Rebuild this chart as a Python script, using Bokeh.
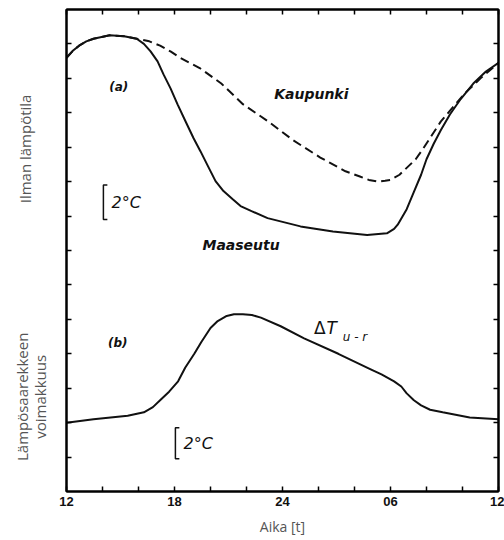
import numpy as np
from bokeh.plotting import figure
from bokeh.layouts import row
from bokeh.models import Range1d, LinearAxis, FixedTicker, Label
from bokeh.core.properties import value
from bokeh.embed import file_html
from bokeh.resources import INLINE

# ---- data (hours since noon: 12 .. 36 = next day 12) ----
hours_rural = [12.0, 12.35, 12.7, 13.1, 13.5, 14.4, 15.2, 15.9, 16.3, 16.67, 17.06, 17.39, 17.78,
               18.17, 18.61, 19.06, 19.44, 19.83, 20.28, 20.72, 21.22, 21.67, 22.28, 23.17, 25.0,
               26.8, 28.7, 29.8, 30.2, 30.4, 30.9, 31.3, 31.7, 32.0, 32.4, 32.8, 33.3, 33.9, 34.6,
               35.3, 36.0]
temp_rural = [25.2, 25.6, 25.9, 26.15, 26.3, 26.5, 26.45, 26.3, 26.0, 25.57, 24.99, 24.23, 23.42,
              22.49, 21.51, 20.52, 19.77, 18.96, 18.03, 17.45, 16.99, 16.58, 16.29, 15.88, 15.4,
              15.1, 14.9, 15.0, 15.25, 15.5, 16.4, 17.4, 18.4, 19.3, 20.2, 21.0, 21.9, 22.8, 23.7,
              24.4, 24.9]

hours_urban = [12.0, 12.35, 12.7, 13.1, 13.5, 14.4, 15.2, 15.9, 16.6, 17.2, 17.8, 18.3, 19.4,
               20.6, 21.8, 23.2, 24.6, 26.1, 27.5, 28.3, 28.8, 29.3, 29.7, 30.0, 30.5, 30.9, 31.4,
               31.8, 32.8, 34.1, 35.0, 36.0]
temp_urban = [25.2, 25.6, 25.9, 26.15, 26.3, 26.5, 26.45, 26.3, 26.15, 25.9, 25.55, 25.2, 24.6,
              23.7, 22.5, 21.5, 20.4, 19.4, 18.6, 18.3, 18.1, 18.0, 18.05, 18.1, 18.4, 18.8, 19.3,
              19.9, 21.5, 23.1, 24.0, 24.9]

hours_diff = [12.0, 13.5, 15.4, 16.3, 16.8, 17.2, 17.7, 18.2, 18.6, 19.1, 19.5, 20.0, 20.4, 20.9,
              21.3, 21.8, 22.3, 22.8, 23.9, 25.2, 27.1, 28.9, 29.5, 30.2, 30.6, 30.9, 31.3, 31.7,
              32.2, 32.9, 34.4, 36.0]
diff_values = [4.0, 4.2, 4.4, 4.6, 4.9, 5.3, 5.8, 6.4, 7.2, 8.0, 8.7, 9.5, 9.9, 10.2,
               10.3, 10.3, 10.25, 10.1, 9.6, 8.9, 8.0, 7.1, 6.8, 6.4, 6.1, 5.7, 5.3, 5.0,
               4.75, 4.6, 4.3, 4.2]

x_ticks = [12, 18, 24, 30, 36]
x_tick_labels = ["12", "18", "24", "06", "12"]
x_minor_ticks = [14, 16, 20, 22, 26, 28, 32, 34]
y_ticks = list(range(2, 28, 2))

# scale bars (2 °C)
scale_a = {"x": 14.05, "y0": 15.8, "y1": 17.8}
scale_b = {"x": 18.05, "y0": 1.9, "y1": 3.7}

H = 540
TOP = 9
BOTTOM = 49
LEFT_W = 50

p = figure(width=504 - LEFT_W, height=H, output_backend="svg", toolbar_location=None,
           x_range=Range1d(12, 36), y_range=Range1d(0, 28),
           x_axis_location=None, y_axis_location=None,
           min_border_left=66 - LEFT_W, min_border_right=6, min_border_top=TOP,
           min_border_bottom=BOTTOM)
p.grid.visible = False
p.outline_line_color = "black"
p.outline_line_width = 2
p.background_fill_color = "white"
p.border_fill_color = "white"

xt = FixedTicker(ticks=x_ticks, minor_ticks=x_minor_ticks)
# unlabeled axes: every tick drawn as a "minor" tick, so no label texts are produced
xt_plain = FixedTicker(ticks=[], minor_ticks=sorted(x_ticks + x_minor_ticks))
yt_plain = FixedTicker(ticks=[], minor_ticks=y_ticks)


def style(ax):
    ax.axis_line_color = "black"
    ax.axis_line_width = 2
    ax.major_tick_in = 5
    ax.major_tick_out = 0
    ax.minor_tick_in = 5
    ax.minor_tick_out = 0
    ax.major_tick_line_color = "black"
    ax.minor_tick_line_color = "black"
    ax.major_tick_line_width = 1.5
    ax.minor_tick_line_width = 1.5


xb = LinearAxis(ticker=xt)
style(xb)
xb.major_label_overrides = {t: l for t, l in zip(x_ticks, x_tick_labels)}
xb.major_label_text_font = "Liberation Sans"
xb.major_label_text_font_style = "bold"
xb.major_label_text_font_size = "13px"
xb.major_label_text_color = "#111111"
xb.major_label_standoff = 5
xb.axis_label = "Aika [t]"
xb.axis_label_text_font = "Open Sans"
xb.axis_label_text_font_style = "normal"
xb.axis_label_text_font_size = "14px"
xb.axis_label_text_color = "#555555"
xb.axis_label_standoff = 8
p.add_layout(xb, "below")

xa = LinearAxis(ticker=xt_plain)
style(xa)
xa.major_label_standoff = 0
p.add_layout(xa, "above")

yl = LinearAxis(ticker=yt_plain)
style(yl)
yl.major_label_standoff = 0
p.add_layout(yl, "left")

yr = LinearAxis(ticker=yt_plain)
style(yr)
yr.major_label_standoff = 0
p.add_layout(yr, "right")

# curves
p.line(hours_rural, temp_rural, line_color="#111111", line_width=2)
p.line(hours_urban, temp_urban, line_color="#111111", line_width=2, line_dash="9 5")
p.line(hours_diff, diff_values, line_color="#111111", line_width=2)

# scale bars
for sb in (scale_a, scale_b):
    p.line([sb["x"] + 0.22, sb["x"], sb["x"], sb["x"] + 0.22],
           [sb["y1"], sb["y1"], sb["y0"], sb["y0"]], line_color="#111111", line_width=1.5)


def lab(x, y, text, size, style="normal", font="DejaVu Sans", align="center",
        color="#111111"):
    p.add_layout(Label(x=x, y=y, text=text, text_font=font, text_font_size=size,
                       text_font_style=style, text_align=align, text_baseline="middle",
                       text_color=color))


lab(14.9, 23.5, "(a)", "12px", "bold italic")
lab(14.85, 8.6, "(b)", "12px", "bold italic")
lab(25.6, 23.1, "Kaupunki", "14px", "bold italic")
lab(21.7, 14.3, "Maaseutu", "14px", "bold italic")
lab(scale_a["x"] + 0.45, (scale_a["y0"] + scale_a["y1"]) / 2, "2°C", "16px", "italic", align="left")
lab(scale_b["x"] + 0.45, (scale_b["y0"] + scale_b["y1"]) / 2, "2°C", "16px", "italic", align="left")
lab(25.75, 9.5, "Δ", "17px", "normal", align="left")
lab(26.45, 9.5, "T", "17px", "italic", align="left")
lab(27.35, 8.95, "u - r", "12px", "italic", align="left")

# left strip carrying the y-axis titles
q = figure(width=LEFT_W, height=H, output_backend="svg", toolbar_location=None,
           x_range=Range1d(0, LEFT_W), y_range=Range1d(0, 28),
           x_axis_location=None, y_axis_location=None,
           min_border_left=0, min_border_right=0, min_border_top=TOP,
           min_border_bottom=BOTTOM)
q.grid.visible = False
q.outline_line_color = None
q.background_fill_color = "white"
q.border_fill_color = "white"

ytitle_x = [24, 21, 39]
ytitle_y = [19.9, 5.5, 5.5]
ytitle_text = ["Ilman lämpötila", "Lämpösaarekkeen", "voimakkuus"]
q.text(x=ytitle_x, y=ytitle_y, text=ytitle_text, angle=np.pi / 2,
       text_font=value("Open Sans"), text_font_size="15px", text_color="#555555",
       text_align="center", text_baseline="middle")

layout = row(q, p, spacing=0)
open("out.html", "w").write(file_html(layout, INLINE))
